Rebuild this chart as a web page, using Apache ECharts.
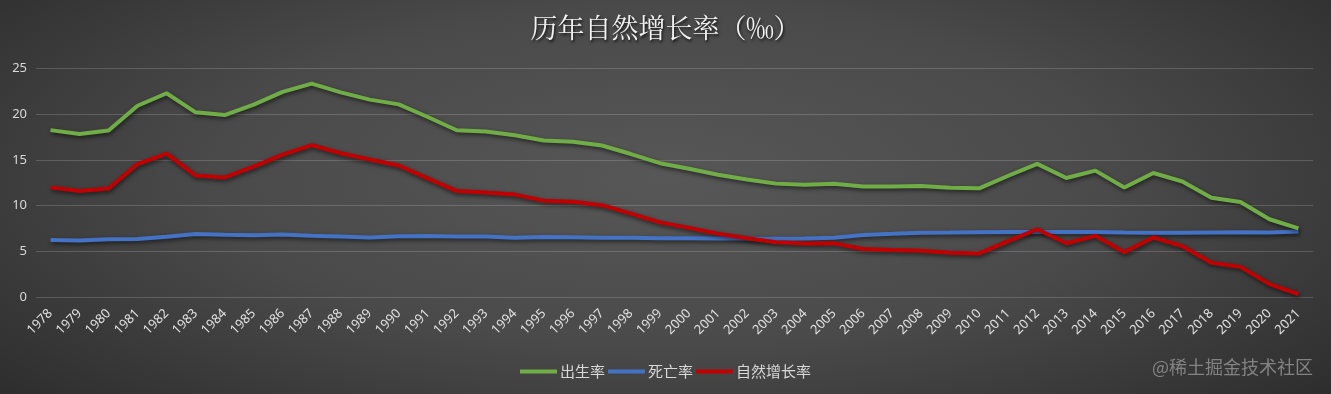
<!DOCTYPE html>
<html>
<head>
<meta charset="utf-8">
<script src="https://cdn.jsdelivr.net/npm/echarts@6/dist/echarts.min.js"></script>
<style>
html,body{margin:0;padding:0;}
#c{width:1331px;height:394px;background:radial-gradient(ellipse 75% 95% at 50% 45%, #575757 0%, #4a4a4a 45%, #333333 80%, #262626 100%);}
</style>
</head>
<body>
<div id="c"></div>
<script>
const years = ['1978','1979','1980','1981','1982','1983','1984','1985','1986','1987','1988','1989','1990','1991','1992','1993','1994','1995','1996','1997','1998','1999','2000','2001','2002','2003','2004','2005','2006','2007','2008','2009','2010','2011','2012','2013','2014','2015','2016','2017','2018','2019','2020','2021'];
const birthRate = [18.25,17.82,18.21,20.91,22.28,20.19,19.90,21.04,22.43,23.33,22.37,21.58,21.06,19.68,18.24,18.09,17.70,17.12,16.98,16.57,15.64,14.64,14.03,13.38,12.86,12.41,12.29,12.40,12.09,12.10,12.14,11.95,11.90,13.27,14.57,13.03,13.83,11.99,13.57,12.64,10.86,10.41,8.52,7.52];
const deathRate = [6.25,6.21,6.34,6.36,6.60,6.90,6.82,6.78,6.86,6.72,6.64,6.54,6.67,6.70,6.64,6.64,6.49,6.57,6.56,6.51,6.50,6.46,6.45,6.43,6.41,6.40,6.42,6.51,6.81,6.93,7.06,7.08,7.11,7.14,7.13,7.13,7.12,7.07,7.04,7.06,7.08,7.09,7.07,7.18];
const growthRate = [12.00,11.61,11.87,14.55,15.68,13.29,13.08,14.26,15.57,16.61,15.73,15.04,14.39,12.98,11.60,11.45,11.21,10.55,10.42,10.06,9.14,8.18,7.58,6.95,6.45,6.01,5.87,5.89,5.28,5.17,5.08,4.87,4.79,6.13,7.43,5.90,6.71,4.93,6.53,5.58,3.78,3.32,1.45,0.34];
const yTicks = {min:0, max:25, interval:5};
const seriesNames = ['出生率','死亡率','自然增长率'];
const colors = ['#70AD47','#4472C4','#C00000'];

const chart = echarts.init(document.getElementById('c'), null, {renderer:'canvas'});
const shadow = {shadowColor:'rgba(0,0,0,0.6)', shadowBlur:4, shadowOffsetX:1, shadowOffsetY:2};
const dataSets = [birthRate, deathRate, growthRate];
chart.setOption({
  backgroundColor: 'transparent',
  animation: false,
  title: {
    text: '历年自然增长率（‰）',
    left: 'center',
    top: 9,
    textStyle: {
      color: '#f2f2f2',
      fontSize: 27,
      fontWeight: 'normal',
      fontFamily: '"Noto Serif CJK SC","Noto Sans CJK SC",serif',
      textShadowColor: 'rgba(0,0,0,0.8)',
      textShadowBlur: 3,
      textShadowOffsetX: 1,
      textShadowOffsetY: 2
    }
  },
  legend: {
    left: 'center',
    top: 359,
    icon: 'rect',
    itemWidth: 37,
    itemHeight: 4,
    itemGap: 3,
    textStyle: {color:'#d9d9d9', fontSize:15, fontFamily:'"Noto Sans CJK SC",sans-serif', padding:[0,0,0,-2]},
    data: seriesNames
  },
  grid: {left:36, right:18, top:68.3, bottom:96.7, containLabel:false},
  xAxis: {
    type: 'category',
    data: years,
    boundaryGap: true,
    axisLine: {show:false},
    axisTick: {show:false},
    axisLabel: {
      rotate: 45,
      interval: 0,
      margin: 14,
      color: '#e0e0e0',
      fontSize: 13,
      fontFamily: '"Noto Sans","DejaVu Sans",sans-serif'
    }
  },
  yAxis: {
    type: 'value',
    min: yTicks.min,
    max: yTicks.max,
    interval: yTicks.interval,
    axisLine: {show:false},
    axisTick: {show:false},
    axisLabel: {color:'#d9d9d9', fontSize:13, margin:9, fontFamily:'"Noto Sans","DejaVu Sans",sans-serif'},
    splitLine: {lineStyle:{color:'rgba(255,255,255,0.17)', width:1}}
  },
  graphic: [{
    type: 'text',
    right: 18,
    top: 358,
    style: {
      text: '@稀土掘金技术社区',
      fill: 'rgba(140,140,140,0.9)',
      font: '18px "Noto Sans CJK SC", sans-serif'
    }
  }],
  series: seriesNames.map((n,i)=>({
    name: n,
    type: 'line',
    data: dataSets[i],
    symbol: 'none',
    smooth: false,
    color: colors[i],
    lineStyle: Object.assign({width:4, color:colors[i]}, shadow),
    z: i===1 ? 2 : (i===0 ? 3 : 4)
  }))
});
</script>
</body>
</html>
